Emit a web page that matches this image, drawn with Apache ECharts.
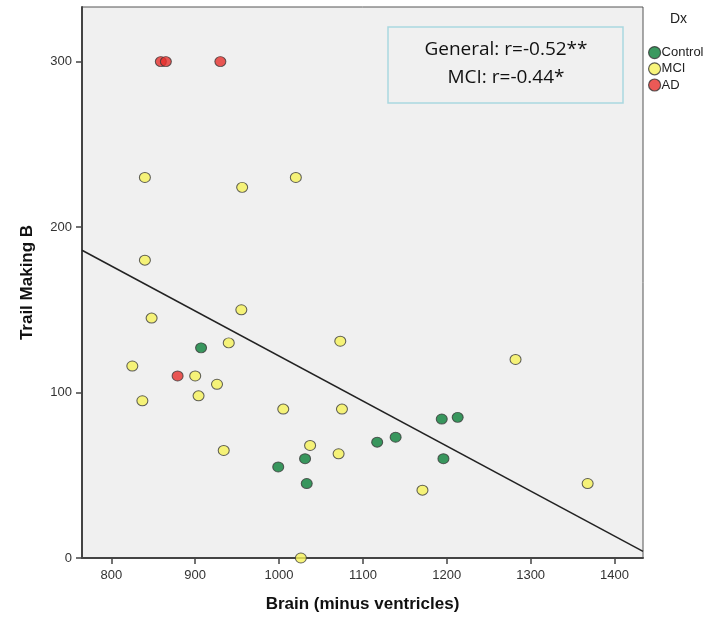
<!DOCTYPE html>
<html>
<head>
<meta charset="utf-8">
<script src="https://cdn.jsdelivr.net/npm/echarts@6/dist/echarts.min.js"></script>
<style>
html,body{margin:0;padding:0;background:#fff;}
#chart{width:718px;height:619px;}
</style>
</head>
<body>
<div id="chart"></div>
<script>
// Brain volume (minus ventricles) vs Trail Making B, per diagnosis group
const controlBrain = [907, 1031, 999, 1033, 1117, 1139, 1194, 1213, 1196];
const controlTMB   = [127, 60, 55, 45, 70, 73, 84, 85, 60];

const mciBrain = [840, 956, 1020, 840, 955, 848, 940, 1073, 825, 900, 926, 904, 837, 1005, 1075, 934, 1037, 1071, 1026, 1282, 1171, 1368];
const mciTMB   = [230, 224, 230, 180, 150, 145, 130, 131, 116, 110, 105, 98, 95, 90, 90, 65, 68, 63, 0, 120, 41, 45];

const adBrain = [859, 865, 930, 879];
const adTMB   = [300, 300, 300, 110];

// Fit line end points
const fitBrain = [765, 1434];
const fitTMB   = [186, 4];

const xTicks = [800, 900, 1000, 1100, 1200, 1300, 1400];
const yTicks = [0, 100, 200, 300];
const groupNames = ['Control', 'MCI', 'AD'];
const annotationLines = ['General: r=-0.52**', 'MCI: r=-0.44*'];

const zip = (a, b) => a.map((v, i) => [v, b[i]]);

const colors = {Control: '#0a7f38', MCI: '#f6f25a', AD: '#e62f2c'};

const chart = echarts.init(document.getElementById('chart'), null, {renderer: 'canvas'});

const scatterStyle = (c) => ({color: c, borderColor: '#3a3a3a', borderWidth: 1});

chart.setOption({
  animation: false,
  backgroundColor: '#ffffff',
  grid: {
    left: 82, right: 75, top: 7, bottom: 61,
    show: true, backgroundColor: '#f0f0f0', borderColor: '#555', borderWidth: 1
  },
  xAxis: {
    type: 'value', min: 765, max: 1434,
    name: 'Brain (minus ventricles)', nameLocation: 'middle', nameGap: 38,
    nameTextStyle: {fontFamily: 'Liberation Sans', fontWeight: 'bold', fontSize: 17, color: '#111'},
    splitLine: {show: false},
    axisLine: {show: true, onZero: false, lineStyle: {color: '#444', width: 2}},
    axisTick: {show: true, length: 6, customValues: xTicks, lineStyle: {color: '#444', width: 1.5}},
    axisLabel: {customValues: xTicks, margin: 11, fontFamily: 'Liberation Sans', fontSize: 13, color: '#333',
      formatter: (v) => String(v)}
  },
  yAxis: {
    type: 'value', min: 0, max: 333,
    name: 'Trail Making B', nameLocation: 'middle', nameGap: 46,
    nameTextStyle: {fontFamily: 'Liberation Sans', fontWeight: 'bold', fontSize: 17, color: '#111'},
    splitLine: {show: false},
    axisLine: {show: true, onZero: false, lineStyle: {color: '#444', width: 2}},
    axisTick: {show: true, length: 6, customValues: yTicks, lineStyle: {color: '#444', width: 1.5}},
    axisLabel: {customValues: yTicks, margin: 10, fontFamily: 'Liberation Sans', fontSize: 13, color: '#333',
      formatter: (v) => String(v)}
  },
  legend: {
    data: groupNames, orient: 'vertical', left: 643, top: 41,
    icon: 'circle', itemWidth: 12, itemHeight: 12, itemGap: 3,
    textStyle: {fontFamily: 'Liberation Sans', fontSize: 13, color: '#222', padding: [0,0,0,-4]},
    itemStyle: {borderColor: '#333', borderWidth: 1.2}
  },
  graphic: [
    {type: 'text', left: 670, top: 12, style: {text: 'Dx', font: '14px "Liberation Sans"', fill: '#222'}},
    {type: 'rect', shape: {x: 388, y: 27, width: 235, height: 76},
      style: {fill: '#f0f0f0', stroke: '#a9d7df', lineWidth: 1.5}, z: 10},
    {type: 'text', x: 506, y: 50, z: 11,
      style: {text: annotationLines[0], font: '19px "Open Sans"', fill: '#111', align: 'center', verticalAlign: 'middle'}},
    {type: 'text', x: 506, y: 78, z: 11,
      style: {text: annotationLines[1], font: '19px "Open Sans"', fill: '#111', align: 'center', verticalAlign: 'middle'}}
  ],
  series: [
    {name: 'Control', type: 'scatter', symbolSize: [11, 10], data: zip(controlBrain, controlTMB), itemStyle: scatterStyle(colors.Control), z: 3},
    {name: 'MCI', type: 'scatter', symbolSize: [11, 10], data: zip(mciBrain, mciTMB), itemStyle: scatterStyle(colors.MCI), z: 3},
    {name: 'AD', type: 'scatter', symbolSize: [11, 10], data: zip(adBrain, adTMB), itemStyle: scatterStyle(colors.AD), z: 3},
    {name: 'Fit', type: 'line', data: zip(fitBrain, fitTMB), symbol: 'none', silent: true,
      lineStyle: {color: '#222', width: 1.5}, z: 4}
  ]
});
</script>
</body>
</html>
